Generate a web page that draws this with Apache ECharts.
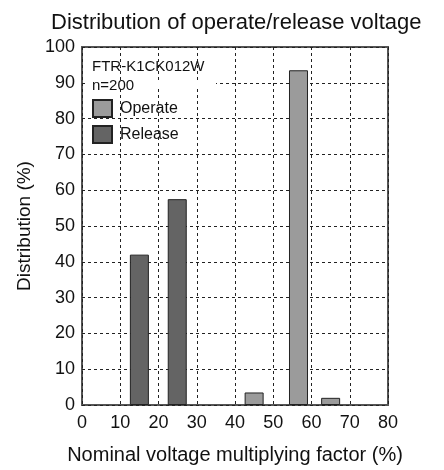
<!DOCTYPE html>
<html>
<head>
<meta charset="utf-8">
<script src="https://cdn.jsdelivr.net/npm/echarts@6/dist/echarts.min.js"></script>
<style>
  html, body { margin: 0; padding: 0; background: #fff; }
  #chart { width: 444px; height: 470px; }
</style>
</head>
<body>
<div id="chart"></div>
<script>
// nominal voltage multiplying factor (%) at bar centre, distribution (%)
const operateX = [45, 56.6, 65];
const operateY = [3.5, 93.5, 2];
const releaseX = [15, 24.9];
const releaseY = [42, 57.5];
const xTicks = [0, 10, 20, 30, 40, 50, 60, 70, 80];
const yTicks = [0, 10, 20, 30, 40, 50, 60, 70, 80, 90, 100];

function pairs(xs, ys) {
    let out = [];
    for (let i = 0; i < xs.length; i++) {
        out.push([xs[i], ys[i]]);
    }
    return out;
}

let chart = echarts.init(document.getElementById('chart'));
let font = 'Liberation Sans, Arial, sans-serif';
let dotted = {color: '#222', width: 1, type: [3, 3]};

chart.setOption({
    backgroundColor: '#fff',
    animation: false,
    title: {
        text: 'Distribution of operate/release voltage',
        left: 46,
        top: 7,
        textStyle: {fontFamily: font, fontSize: 22, fontWeight: 'normal', color: '#111'}
    },
    grid: {
        left: 82, right: 56, top: 47, bottom: 63,
        show: true,
        borderColor: '#555',
        borderWidth: 2
    },
    legend: {
        data: ['Operate', 'Release'],
        orient: 'vertical',
        left: 87,
        top: 94,
        itemWidth: 19,
        itemHeight: 17,
        itemGap: 7,
        icon: 'rect',
        textStyle: {fontFamily: font, fontSize: 16, color: '#111', padding: [0, 0, 0, 3]}
    },
    graphic: [
        // the sample note sits on a white patch, so the 90 % grid line stops short of it
        {type: 'rect', z: 1, shape: {x: 86, y: 80, width: 130, height: 7}, style: {fill: '#fff'}},
        {type: 'text', z: 2, left: 92, top: 59, style: {text: 'FTR-K1CK012W', font: '15px ' + font, fill: '#111'}},
        {type: 'text', z: 2, left: 92, top: 78, style: {text: 'n=200', font: '15px ' + font, fill: '#111'}}
    ],
    xAxis: {
        type: 'value',
        min: xTicks[0],
        max: xTicks[xTicks.length - 1],
        interval: 10,
        name: 'Nominal voltage multiplying factor (%)',
        nameLocation: 'middle',
        nameGap: 40,
        nameTextStyle: {fontFamily: font, fontSize: 20, color: '#111'},
        axisLine: {show: false},
        axisTick: {show: false},
        axisLabel: {fontFamily: font, fontSize: 18, color: '#111', margin: 9},
        splitLine: {show: true, lineStyle: dotted}
    },
    yAxis: {
        type: 'value',
        min: yTicks[0],
        max: yTicks[yTicks.length - 1],
        interval: 10,
        name: 'Distribution (%)',
        nameLocation: 'middle',
        nameGap: 46,
        nameTextStyle: {fontFamily: font, fontSize: 19, color: '#111'},
        axisLine: {show: false},
        axisTick: {show: false},
        axisLabel: {fontFamily: font, fontSize: 18, color: '#111', margin: 7},
        splitLine: {show: true, lineStyle: dotted}
    },
    series: [
        {
            name: 'Operate',
            type: 'bar',
            barWidth: 19,
            barGap: '-100%',
            data: pairs(operateX, operateY),
            itemStyle: {color: '#9b9b9b', borderColor: '#222', borderWidth: 1}
        },
        {
            name: 'Release',
            type: 'bar',
            barWidth: 19,
            barGap: '-100%',
            data: pairs(releaseX, releaseY),
            itemStyle: {color: '#646464', borderColor: '#222', borderWidth: 1}
        }
    ]
});
</script>
</body>
</html>
